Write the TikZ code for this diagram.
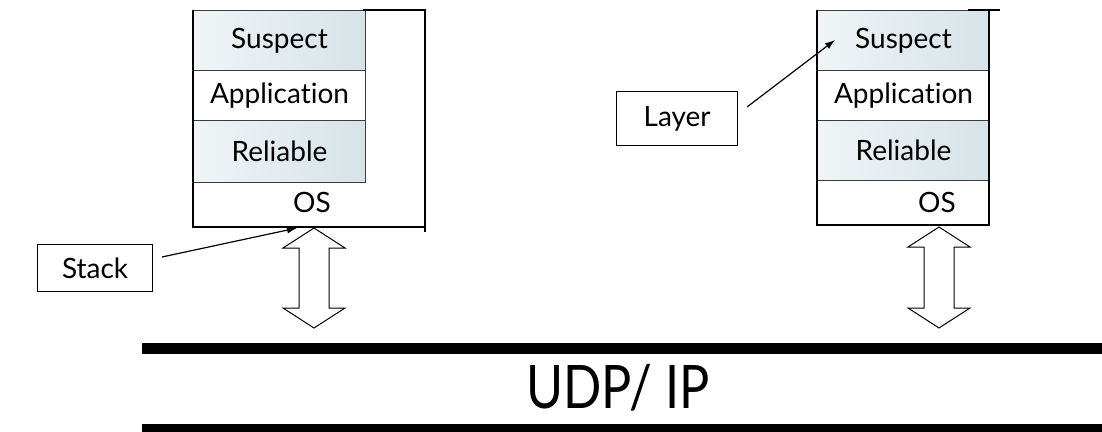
\documentclass[tikz,border=0pt]{standalone}
\usepackage{fontspec}
\setmainfont{Lato}[Ligatures=NoCommon]
\usetikzlibrary{arrows.meta}
\definecolor{cellL}{RGB}{240,244,246}
\definecolor{cellR}{RGB}{214,227,232}
\definecolor{cellline}{RGB}{60,60,60}
\begin{document}
\begin{tikzpicture}[x=1pt,y=-1pt,
  cell/.style={draw=cellline, line width=1pt, minimum width=172pt, anchor=north west, inner sep=0pt, font=\fontsize{28}{30}\selectfont},
  shadedcell/.style={left color=cellL, right color=cellR},
  outer/.style={draw=black, line width=2pt},
  labelbox/.style={draw=black, line width=1.2pt, inner sep=0pt, anchor=north west, font=\fontsize{28}{30}\selectfont},
  txt/.style={font=\fontsize{28}{30}\selectfont},
  arr/.style={-{Latex[length=10pt,width=7pt]}, line width=1.2pt},
  darrow/.style={draw=black, line width=1pt, fill=white, line join=miter}]
\useasboundingbox (0,0) rectangle (1102,431);
% left stack
\node[cell,shadedcell,minimum height=60pt] (ls) at (193,10) {Suspect};
\node[cell,minimum height=50pt] (la) at (193,70) {Application};
\node[cell,shadedcell,minimum height=62pt] (lr) at (193,120) {Reliable};
\draw[outer] (193,10) -- (193,227) -- (425,227);
\draw[outer] (363,10) -- (425,10) -- (425,232);
\node[txt] (los) at (312,202) {OS};
% right stack
\node[cell,shadedcell,minimum height=60pt] (rs) at (817,10) {Suspect};
\node[cell,minimum height=50pt] (ra) at (817,70) {Application};
\node[cell,shadedcell,minimum height=60pt] (rr) at (817,120) {Reliable};
\draw[outer] (817,10) -- (817,225) -- (989,225) -- (989,10);
\draw[outer] (968,10) -- (1000,10);
\node[txt] (ros) at (937,202) {OS};
% double arrows
\draw[darrow] (314,228) -- (345,248) -- (329,248) -- (329,308) -- (345,308) -- (314,328)
  -- (283,308) -- (299,308) -- (299,248) -- (283,248) -- cycle;
\draw[darrow] (939,227) -- (970,247) -- (954,247) -- (954,308) -- (970,308) -- (939,328)
  -- (908,308) -- (924,308) -- (924,247) -- (908,247) -- cycle;
% bars
\fill[black] (142,343) rectangle (1102,354);
\fill[black] (142,424) rectangle (1102,435);
\node[font=\fontsize{60}{62}\selectfont, xscale=0.84] (udp) at (618,388) {UDP/ IP};
% labels
\node[labelbox, minimum width=115pt, minimum height=47pt] (stack) at (37,244) {Stack};
\node[labelbox, minimum width=121pt, minimum height=54pt] (layer) at (616,91) {Layer};
\coordinate (s0) at (162,257);
\coordinate (s1) at (297,228);
\draw[arr] (s0) -- (s1);
\coordinate (l0) at (747,107);
\coordinate (l1) at (835,40);
\draw[arr] (l0) -- (l1);
\end{tikzpicture}
\end{document}
